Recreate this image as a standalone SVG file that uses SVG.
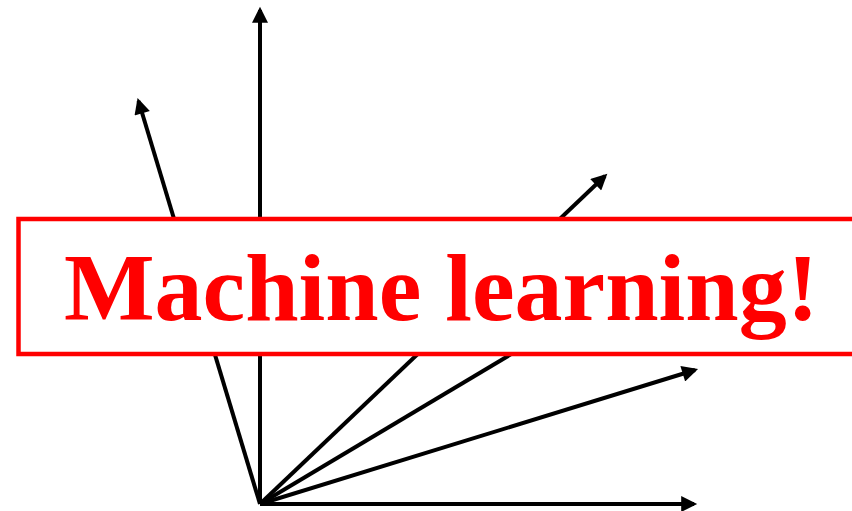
<svg xmlns="http://www.w3.org/2000/svg" width="852" height="511" viewBox="0 0 852 511">
<style>
.arr{stroke:#000;stroke-width:4;fill:none;marker-end:url(#ah)}
.box{fill:#fff;stroke:#f00;stroke-width:4.5}
.lbl{font-family:"Liberation Serif","Times New Roman",serif;font-weight:bold;font-size:96px;fill:#f00}
</style>
<defs>
<marker id="ah" viewBox="0 0 10 10" refX="8" refY="5" markerWidth="18" markerHeight="16" markerUnits="userSpaceOnUse" orient="auto">
<path d="M0,0 L10,5 L0,10 z" fill="#000"/>
</marker>
</defs>
<g id="connectors">
<line class="arr" x1="260" y1="504" x2="260" y2="10"/>
<line class="arr" x1="260" y1="504" x2="138.5" y2="101"/>
<line class="arr" x1="260" y1="504" x2="605" y2="176"/>
<line class="arr" x1="260" y1="504" x2="560" y2="325"/>
<line class="arr" x1="260" y1="504" x2="695" y2="370"/>
<line class="arr" x1="260" y1="504" x2="694" y2="504"/>
</g>
<g id="label">
<rect class="box" x="18.5" y="219" width="850" height="135"/>
<text class="lbl" x="64" y="320">Machine learning!</text>
</g>
</svg>
